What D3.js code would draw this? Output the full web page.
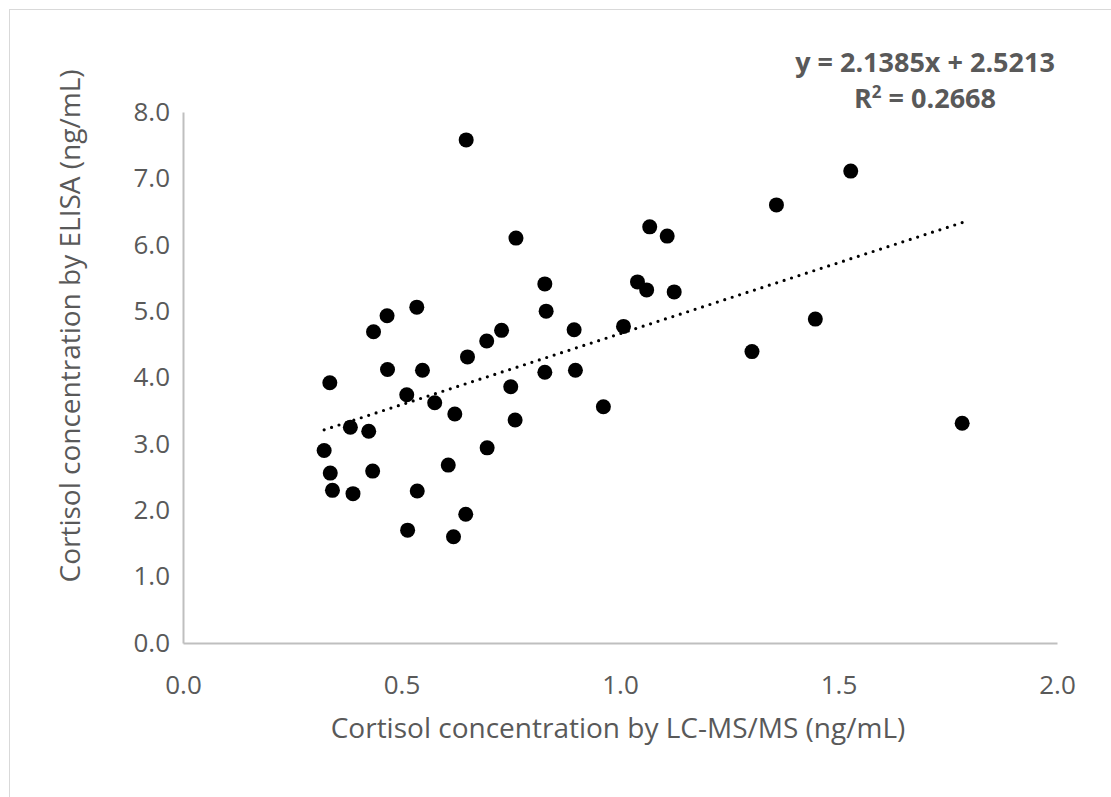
<!DOCTYPE html>
<html>
<head>
<meta charset="utf-8">
<script src="https://cdn.jsdelivr.net/npm/d3@7"></script>
<style>
  body { margin: 0; background: #fff; }
  svg text { font-family: "Open Sans", sans-serif; }
</style>
</head>
<body>
<div id="chart"></div>
<script>
// LC-MS/MS (x) vs ELISA (y), ng/mL
const lcms = [0.535, 0.467, 0.436, 0.831, 0.729, 0.695, 0.895, 1.008, 0.651, 0.336,
  0.468, 0.548, 0.828, 0.898, 0.750, 0.512, 0.576, 0.622, 0.962, 0.760,
  0.383, 0.425, 0.323, 0.696, 0.337, 0.434, 0.607, 0.342, 0.389, 0.536,
  0.647, 0.514, 0.619, 1.528, 1.358, 1.068, 1.108, 1.040, 1.061, 1.124,
  1.447, 1.302, 1.783, 0.648, 0.762, 0.828];
const elisa = [5.06, 4.93, 4.69, 5.00, 4.71, 4.55, 4.72, 4.77, 4.31, 3.92,
  4.12, 4.11, 4.08, 4.11, 3.86, 3.74, 3.62, 3.45, 3.56, 3.36,
  3.25, 3.19, 2.90, 2.94, 2.56, 2.59, 2.68, 2.30, 2.25, 2.29,
  1.94, 1.70, 1.60, 7.11, 6.60, 6.27, 6.13, 5.44, 5.32, 5.29,
  4.88, 4.39, 3.31, 7.58, 6.10, 5.41];

const xTicks = [0, 0.5, 1.0, 1.5, 2.0];
const yTicks = [0, 1, 2, 3, 4, 5, 6, 7, 8];

// linear trend line from Excel
const slope = 2.1385;
const intercept = 2.5213;
const rSquared = "0.2668";

const width = 1111, height = 797;
const svg = d3.select("#chart").append("svg")
  .attr("width", width)
  .attr("height", height);

// chart area border
svg.append("rect")
  .attr("x", 9.5).attr("y", 9.5)
  .attr("width", 1200).attr("height", 900)
  .attr("fill", "none")
  .attr("stroke", "#d9d9d9")
  .attr("stroke-width", 1);

const x = d3.scaleLinear().domain([0, 2]).range([183, 1057]);
const y = d3.scaleLinear().domain([0, 8]).range([643, 112]);

const textColor = "#595959";
const axisColor = "#bfbfbf";

// x axis
const gx = svg.append("g")
  .attr("transform", `translate(0,${y(0)})`)
  .call(d3.axisBottom(x).tickValues(xTicks).tickFormat(d3.format(".1f"))
    .tickSize(0).tickPadding(33));
gx.select(".domain").attr("stroke", axisColor).attr("stroke-width", 2);
gx.selectAll("text").attr("fill", textColor).attr("font-size", "26px");

// y axis
const gy = svg.append("g")
  .attr("transform", `translate(${x(0)},0)`)
  .call(d3.axisLeft(y).tickValues(yTicks).tickFormat(d3.format(".1f"))
    .tickSize(0).tickPadding(13));
gy.select(".domain").attr("stroke", axisColor).attr("stroke-width", 2);
gy.selectAll("text").attr("fill", textColor).attr("font-size", "26px");

// axis titles
svg.append("text")
  .attr("x", 618).attr("y", 738)
  .attr("text-anchor", "middle")
  .attr("fill", textColor)
  .attr("font-size", "28px")
  .text("Cortisol concentration by LC-MS/MS (ng/mL)");

svg.append("text")
  .attr("transform", "translate(80,326) rotate(-90)")
  .attr("text-anchor", "middle")
  .attr("fill", textColor)
  .attr("font-size", "28px")
  .text("Cortisol concentration by ELISA (ng/mL)");

// trend line over the range of the data
const xMin = d3.min(lcms), xMax = d3.max(lcms);
svg.append("line")
  .attr("x1", x(xMin)).attr("y1", y(slope * xMin + intercept))
  .attr("x2", x(xMax)).attr("y2", y(slope * xMax + intercept))
  .attr("stroke", "#000")
  .attr("stroke-width", 3.2)
  .attr("stroke-linecap", "round")
  .attr("stroke-dasharray", "0 7.8");

// points
const pts = lcms.map((v, i) => ({ x: v, y: elisa[i] }));
svg.append("g").selectAll("circle")
  .data(pts)
  .enter()
  .append("circle")
  .attr("cx", d => x(d.x))
  .attr("cy", d => y(d.y))
  .attr("r", 7.5)
  .attr("fill", "#000");

// equation label
const eq = svg.append("text")
  .attr("x", 925)
  .attr("text-anchor", "middle")
  .attr("fill", textColor)
  .attr("font-size", "27px")
  .attr("font-weight", "bold");
eq.append("tspan").attr("x", 925).attr("y", 72)
  .text(`y = ${slope}x + ${intercept}`);
const r2 = eq.append("tspan").attr("x", 925).attr("y", 108);
r2.append("tspan").text("R");
r2.append("tspan").attr("dy", -10).attr("font-size", "17px").text("2");
r2.append("tspan").attr("dy", 10).text(` = ${rSquared}`);
</script>
</body>
</html>
